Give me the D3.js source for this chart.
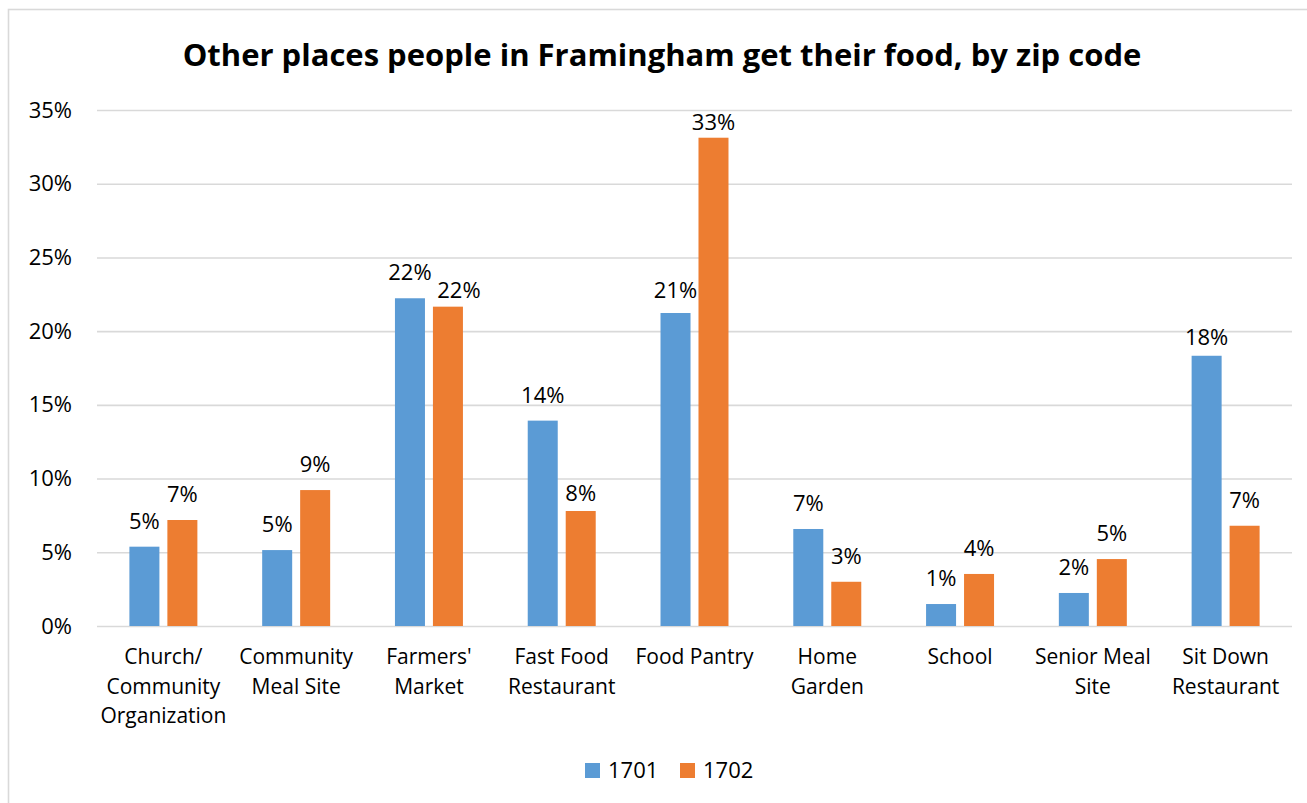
<!DOCTYPE html>
<html>
<head>
<meta charset="utf-8">
<script src="https://cdn.jsdelivr.net/npm/d3@7"></script>
<style>
  body { margin: 0; background: #fff; }
  text { font-family: "Open Sans", sans-serif; fill: #000; }
</style>
</head>
<body>
<div id="chart-container"></div>
<script>
const title = 'Other places people in Framingham get their food, by zip code';
const categories = [
  'Church/\nCommunity\nOrganization',
  'Community\nMeal Site',
  "Farmers'\nMarket",
  'Fast Food\nRestaurant',
  'Food Pantry',
  'Home\nGarden',
  'School',
  'Senior Meal\nSite',
  'Sit Down\nRestaurant'
];
const seriesNames = ['1701', '1702'];
const values1701 = [0.0538, 0.0515, 0.2223, 0.1393, 0.2123, 0.0658, 0.0149, 0.0224, 0.1833];
const values1702 = [0.0719, 0.0922, 0.2166, 0.0780, 0.3312, 0.0300, 0.0353, 0.0454, 0.0680];
const yTicks = [0, 0.05, 0.10, 0.15, 0.20, 0.25, 0.30, 0.35];
const seriesColors = ['#5B9BD5', '#ED7D31'];

// a few data labels were dragged by hand in the original
const labelNudge = {
  "Farmers'\nMarket|1702": [11, 9],
  'Fast Food\nRestaurant|1702': [0, 8],
  'Food Pantry|1702': [0, 10],
  'Food Pantry|1701': [0, 3],
  'Sit Down\nRestaurant|1701': [0, 7]
};

const width = 1307;
const height = 803;
const plotLeft = 97;
const plotRight = 1292;
const plotTop = 110;
const plotBottom = 626;

const svg = d3.select('#chart-container')
    .append('svg')
    .attr('width', width)
    .attr('height', height);

// chart frame (runs off the right and bottom edges)
svg.append('rect')
    .attr('x', 8.5)
    .attr('y', 9.5)
    .attr('width', 1320)
    .attr('height', 820)
    .attr('fill', '#fff')
    .attr('stroke', '#d9d9d9')
    .attr('stroke-width', 1.6);

svg.append('text')
    .text(title)
    .attr('x', 662)
    .attr('y', 66)
    .attr('text-anchor', 'middle')
    .attr('font-size', 31)
    .attr('font-weight', 'bold');

const x = d3.scaleBand(categories, [plotLeft, plotRight])
    .paddingInner(0.488)
    .paddingOuter(0.244);
const xSub = d3.scaleBand(seriesNames, [0, x.bandwidth()])
    .paddingInner(0.21);
const y = d3.scaleLinear([0, 0.35], [plotBottom, plotTop]);
const pct = d3.format('.0%');

// gridlines + y labels
const yAxis = svg.append('g')
    .attr('transform', `translate(${plotLeft}, 0)`)
    .call(d3.axisLeft(y)
      .tickValues(yTicks)
      .tickFormat(pct)
      .tickSize(-(plotRight - plotLeft))
      .tickPadding(25));
yAxis.select('.domain').remove();
yAxis.selectAll('line')
    .attr('stroke', '#d9d9d9')
    .attr('stroke-width', 1.6);
yAxis.selectAll('text')
    .attr('font-size', 22)
    .attr('font-family', '"Open Sans", sans-serif')
    .attr('fill', '#000');

// category labels
const xAxis = svg.append('g')
    .attr('transform', `translate(0, ${plotBottom})`)
    .call(d3.axisBottom(x).tickSize(0).tickFormat(''));
xAxis.select('.domain').remove();
xAxis.selectAll('.tick').each(function(d) {
  const t = d3.select(this).append('text')
      .attr('text-anchor', 'middle')
      .attr('font-size', 21)
      .attr('fill', '#000');
  d.split('\n').forEach((line, i) => {
    t.append('tspan')
        .attr('x', 0)
        .attr('y', 38 + i * 29.5)
        .text(line);
  });
});

// bars
const rows = categories.map((c, i) => ({
  category: c,
  values: [values1701[i], values1702[i]]
}));

const groups = svg.append('g')
    .selectAll('g')
    .data(rows)
    .join('g')
    .attr('transform', d => `translate(${x(d.category)}, 0)`);

groups.selectAll('rect')
    .data(d => d.values.map((v, j) => ({ category: d.category, series: seriesNames[j], value: v, color: seriesColors[j] })))
    .join('rect')
    .attr('x', d => xSub(d.series))
    .attr('width', xSub.bandwidth())
    .attr('y', d => y(d.value))
    .attr('height', d => y(0) - y(d.value))
    .attr('fill', d => d.color);

groups.selectAll('text.value')
    .data(d => d.values.map((v, j) => ({ category: d.category, series: seriesNames[j], value: v })))
    .join('text')
    .attr('class', 'value')
    .attr('text-anchor', 'middle')
    .attr('font-size', 22)
    .attr('x', d => xSub(d.series) + xSub.bandwidth() / 2 + (labelNudge[d.category + '|' + d.series] || [0, 0])[0])
    .attr('y', d => y(d.value) - 18 + (labelNudge[d.category + '|' + d.series] || [0, 0])[1])
    .text(d => pct(d.value));

// legend
const legend = svg.append('g')
    .attr('transform', 'translate(585, 763)');
const legendItems = legend.selectAll('g')
    .data(seriesNames)
    .join('g')
    .attr('transform', (d, i) => `translate(${i * 95}, 0)`);
legendItems.append('rect')
    .attr('width', 15)
    .attr('height', 15)
    .attr('fill', (d, i) => seriesColors[i]);
legendItems.append('text')
    .attr('x', 23)
    .attr('y', 15)
    .attr('font-size', 22)
    .text(d => d);
</script>
</body>
</html>
